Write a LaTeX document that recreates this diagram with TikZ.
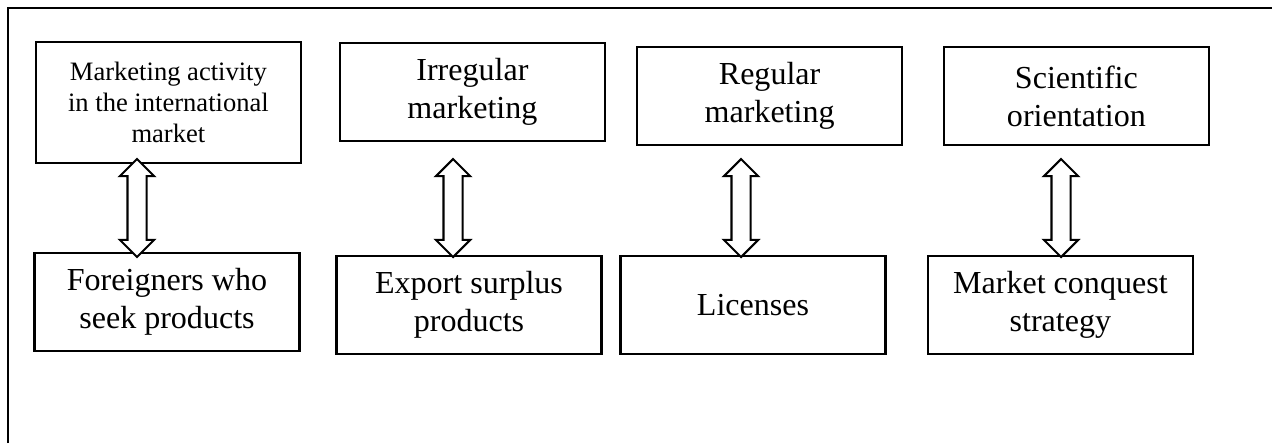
\documentclass[tikz,border=0pt]{standalone}
\usepackage{fontspec}
\setmainfont{Liberation Serif}
\usepackage{tikz}
\usetikzlibrary{positioning,shapes.arrows}

\begin{document}
\begin{tikzpicture}[
      box/.style={draw, line width=1.5pt, minimum width=6.625cm, minimum height=2.45cm, align=center, inner sep=2pt, font=\fontsize{22.8}{27}\selectfont},
      smallbox/.style={box, minimum height=3.025cm, font=\fontsize{18.9}{22}\selectfont},
      link/.style={draw, line width=1.5pt, fill=white, shape=double arrow, double arrow head extend=0.19cm, minimum height=2.45cm, inner xsep=0pt, inner ysep=0.2125cm, sloped}
    ]
      \useasboundingbox (0,0) rectangle (31.8,-11.075);
      % open frame, top and left sides only
      \draw[line width=1.5pt] (0.2,-11.075) -- (0.2,-0.2) -- (31.8,-0.2);

      % upper row
      \node[smallbox] (activity) at (4.21,-2.56) {Marketing activity\\in the international\\market};
      \node[box] (irregular) at (11.81,-2.3) {Irregular\\marketing};
      \node[box] (regular) at (19.24,-2.4) {Regular\\marketing};
      \node[box] (scientific) at (26.91,-2.4) {Scientific\\orientation};

      % lower row
      \node[box] (foreigners) at (4.175,-7.55) {Foreigners who\\seek products};
      \node[box] (surplus) at (11.725,-7.625) {Export surplus\\products};
      \node[box] (licenses) at (18.825,-7.625) {Licenses};
      \node[box] (conquest) at (26.51,-7.625) {Market conquest\\strategy};

      % arrow ends
      \coordinate (a1) at (3.425,-3.975);   \coordinate (b1) at (3.425,-6.425);
      \coordinate (a2) at (11.325,-3.975);  \coordinate (b2) at (11.325,-6.425);
      \coordinate (a3) at (18.525,-3.975);  \coordinate (b3) at (18.525,-6.425);
      \coordinate (a4) at (26.525,-3.975);  \coordinate (b4) at (26.525,-6.425);

      \path (a1) -- (b1) node[link, midway] (l1) {};
      \path (a2) -- (b2) node[link, midway] (l2) {};
      \path (a3) -- (b3) node[link, midway] (l3) {};
      \path (a4) -- (b4) node[link, midway] (l4) {};
    \end{tikzpicture}
\end{document}
